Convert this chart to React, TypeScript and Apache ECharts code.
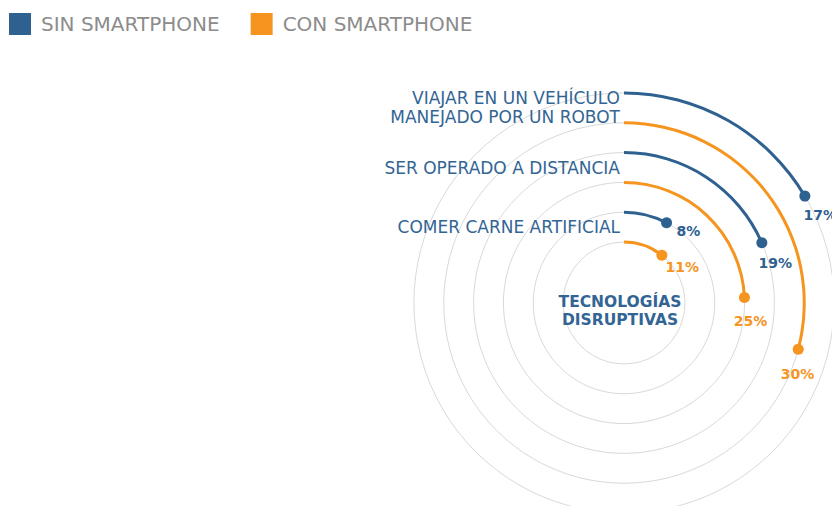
import React, { useEffect, useRef } from "react";
import * as echarts from "echarts";

// Topics, ordered from the innermost pair of rings to the outermost
const TOPICS = [
  "COMER CARNE ARTIFICIAL",
  "SER OPERADO A DISTANCIA",
  "VIAJAR EN UN VEHÍCULO\nMANEJADO POR UN ROBOT",
];
const SIN_SMARTPHONE = [8, 19, 17];
const CON_SMARTPHONE = [11, 25, 30];
const SERIES_NAMES = ["SIN SMARTPHONE", "CON SMARTPHONE"];
const CENTER_TITLE = "TECNOLOGÍAS\nDISRUPTIVAS";

const BLUE = "#2f6190";
const ORANGE = "#f5951f";
const TEXT_BLUE = "#336594";
const GRID = "#d9d9d9";

const W = 832;
const H = 506;
const CX = 624;
const CY = 303;
const R0 = 46;
const R1 = 225;
const ANGLE_MAX = 103;
const FONT = "DejaVu Sans, sans-serif";

export default function App() {
  const ref = useRef<HTMLDivElement>(null);
  useEffect(() => {
    document.body.style.margin = "0";
    if (!ref.current) return;
    const chart = echarts.init(ref.current, null, { renderer: "svg" });

    const nBands = TOPICS.length * 2;
    const bands = Array.from({ length: nBands }, (_, k) => String(k));
    // band 2i = orange (con), band 2i+1 = blue (sin)
    const blueBar = bands.map((_, k) => (k % 2 === 1 ? SIN_SMARTPHONE[(k - 1) / 2] : "-"));
    const orangeBar = bands.map((_, k) => (k % 2 === 0 ? CON_SMARTPHONE[k / 2] : "-"));
    const bandW = (R1 - R0) / nBands;
    const bandR = (k: number) => R0 + bandW * (k + 0.5);

    const labelOffset = (v: number) => {
      const t = ((v / ANGLE_MAX) * 360 * Math.PI) / 180;
      const tx = Math.cos(t), ty = Math.sin(t);
      const rx = Math.sin(t), ry = -Math.cos(t);
      return [tx * 22 + rx * 5, ty * 22 + ry * 5 + 2];
    };

    const dots = (vals: number[], color: string, name: string, parity: number) => ({
      type: "scatter",
      name,
      coordinateSystem: "polar",
      polarIndex: 0,
      symbol: "circle",
      symbolSize: 11,
      itemStyle: { color, opacity: 1 },
      z: 5,
      data: vals.map((v, i) => ({
        value: [2 * i + parity, v],
        label: {
          show: true,
          position: "inside",
          offset: labelOffset(v),
          formatter: (p: any) => p.value[1] + "%",
          color,
          opacity: 1,
          fontFamily: FONT,
          fontWeight: "bold",
          fontSize: 14,
        },
      })),
    });

    const topicTexts = TOPICS.map((t, i) => {
      const y = CY - (bandR(2 * i) + bandR(2 * i + 1)) / 2;
      return {
        type: "text",
        x: 620,
        y,
        style: {
          text: t,
          textAlign: "right",
          textVerticalAlign: "middle",
          fill: TEXT_BLUE,
          fontFamily: FONT,
          fontSize: 17,
          lineHeight: 19,
        },
        z: 10,
      };
    });

    const option: any = {
      animation: false,
      legend: {
        left: 9,
        top: 13,
        padding: 0,
        data: SERIES_NAMES,
        icon: "rect",
        itemWidth: 22,
        itemHeight: 22,
        itemGap: 31,
        selectedMode: false,
        textStyle: {
          color: "#8c8c8c",
          fontFamily: FONT,
          fontSize: 20,
          padding: [0, 0, 0, 5],
        },
      },
      polar: [
        { center: [CX, CY], radius: [R0, R1] },
        { center: [CX, CY], radius: [bandR(0), bandR(nBands - 1)] },
      ],
      angleAxis: [
        {
          polarIndex: 0,
          type: "value",
          min: 0,
          max: ANGLE_MAX,
          startAngle: 90,
          clockwise: true,
          show: false,
        },
        {
          polarIndex: 1,
          type: "value",
          min: 0,
          max: 100,
          startAngle: 90,
          show: false,
        },
      ],
      radiusAxis: [
        {
          polarIndex: 0,
          type: "category",
          data: bands,
          show: false,
        },
        {
          polarIndex: 1,
          type: "value",
          min: 0,
          max: nBands - 1,
          interval: 1,
          axisLine: { show: false },
          axisTick: { show: false },
          axisLabel: { show: false },
          splitLine: { show: true, lineStyle: { color: GRID, width: 1 } },
        },
      ],
      series: [
        {
          type: "bar",
          name: SERIES_NAMES[0],
          coordinateSystem: "polar",
          polarIndex: 0,
          barWidth: 3,
          barGap: "-100%",
          itemStyle: { color: BLUE },
          data: blueBar,
          z: 3,
        },
        {
          type: "bar",
          name: SERIES_NAMES[1],
          coordinateSystem: "polar",
          polarIndex: 0,
          barWidth: 3,
          barGap: "-100%",
          itemStyle: { color: ORANGE },
          data: orangeBar,
          z: 3,
        },
        dots(SIN_SMARTPHONE, BLUE, SERIES_NAMES[0], 1),
        dots(CON_SMARTPHONE, ORANGE, SERIES_NAMES[1], 0),
      ],
      graphic: [
        ...topicTexts,
        {
          type: "text",
          x: 620,
          y: 311,
          style: {
            text: CENTER_TITLE,
            textAlign: "center",
            textVerticalAlign: "middle",
            fill: TEXT_BLUE,
            fontFamily: FONT,
            fontWeight: "bold",
            fontSize: 15.5,
            lineHeight: 18,
          },
          z: 10,
        },
      ],
    };
    chart.setOption(option);
    return () => chart.dispose();
  }, []);
  return <div ref={ref} style={{ width: W, height: H }} />;
}
